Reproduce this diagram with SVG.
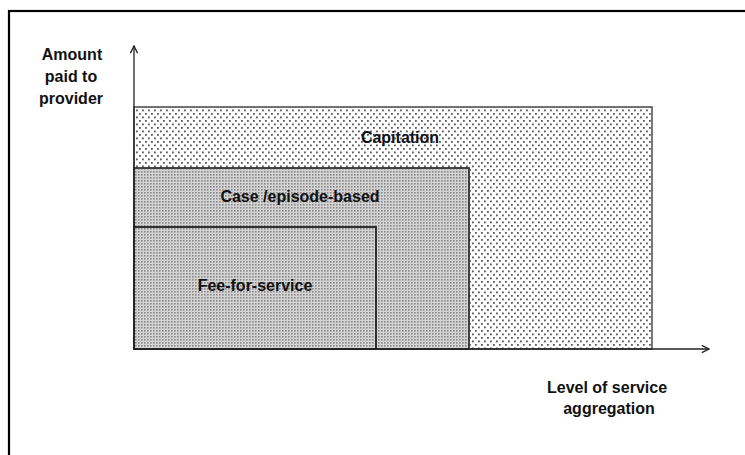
<svg xmlns="http://www.w3.org/2000/svg" width="745" height="455" viewBox="0 0 745 455">
<style>
  text { font-family: "Liberation Sans", Arial, sans-serif; font-weight: bold; font-size: 16px; fill: #111; text-anchor: middle; }
  .axis { stroke: #222; stroke-width: 1.3; fill: none; }
</style>
<defs>
  <pattern id="sparse" width="6" height="7" patternUnits="userSpaceOnUse">
    <rect width="6" height="7" fill="#ffffff"/>
    <rect x="1" y="1" width="1.8" height="1.8" fill="#5a5a5a"/>
    <rect x="4" y="4.5" width="1.8" height="1.8" fill="#5a5a5a"/>
  </pattern>
  <pattern id="dense" width="3" height="3" patternUnits="userSpaceOnUse">
    <rect width="3" height="3" fill="#d4d4d4"/>
    <rect x="0" y="0" width="1.6" height="1.6" fill="#888"/>
  </pattern>
  <marker id="arrow" viewBox="0 0 10 10" refX="9" refY="5" markerWidth="9" markerHeight="9" markerUnits="userSpaceOnUse" orient="auto">
    <path d="M1,1 L9,5 L1,9" fill="none" stroke="#222" stroke-width="1.5"/>
  </marker>
</defs>
<rect x="0" y="0" width="745" height="455" fill="#ffffff"/>
<rect id="frame" x="9" y="11" width="800" height="500" fill="none" stroke="#000" stroke-width="2.2"/>

<g id="capitation">
  <rect x="134" y="107" width="518" height="242" fill="url(#sparse)" stroke="#555" stroke-width="1.6"/>
  <text x="400" y="143">Capitation</text>
</g>
<g id="case-episode">
  <rect x="134" y="168" width="335" height="181" fill="url(#dense)" stroke="#333" stroke-width="1.8"/>
  <text x="300" y="202">Case /episode-based</text>
</g>
<g id="fee-for-service">
  <rect x="134" y="227" width="242" height="122" fill="url(#dense)" stroke="#222" stroke-width="1.8"/>
  <text x="255" y="291">Fee-for-service</text>
</g>

<g id="connectors">
  <line class="axis" x1="134" y1="349" x2="134" y2="46" marker-end="url(#arrow)"/>
  <line class="axis" x1="134" y1="349" x2="709" y2="349" marker-end="url(#arrow)"/>
</g>

<g id="y-label">
  <text x="72" y="60">Amount</text>
  <text x="71" y="82">paid to</text>
  <text x="71" y="104">provider</text>
</g>
<g id="x-label">
  <text x="607" y="393">Level of service</text>
  <text x="609" y="414">aggregation</text>
</g>
</svg>
